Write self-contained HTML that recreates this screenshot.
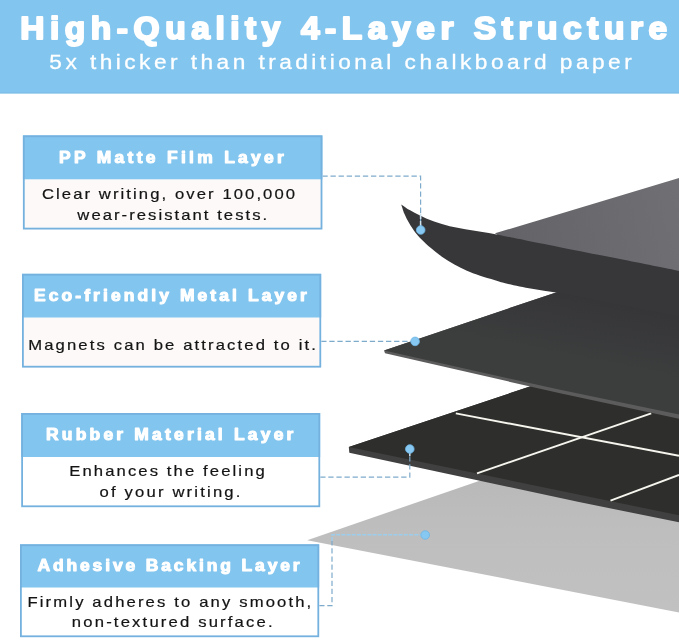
<!DOCTYPE html>
<html><head><meta charset="utf-8">
<style>
html,body{margin:0;padding:0;background:#fff;}
body{width:679px;height:640px;position:relative;overflow:hidden;}
svg{position:absolute;left:0;top:0;display:block;will-change:transform;}
text{font-family:"Liberation Sans",sans-serif;white-space:pre;}
.T1{font-size:31px;font-weight:bold;fill:#ffffff;stroke:#ffffff;stroke-width:2.0px;stroke-linejoin:round;}
.T2{font-size:21px;font-weight:normal;fill:#ffffff;stroke:#ffffff;stroke-width:0.3px;stroke-linejoin:round;}
.H{font-size:15.6px;font-weight:bold;fill:#ffffff;stroke:#ffffff;stroke-width:1.0px;stroke-linejoin:round;}
.B{font-size:14.6px;font-weight:normal;fill:#141414;stroke:#141414;stroke-width:0.2px;stroke-linejoin:round;}
</style></head><body>
<svg width="679" height="640" viewBox="0 0 679 640">
<rect x="0" y="0" width="679" height="93.4" fill="#82c5ef"/>
<rect x="0" y="92.4" width="679" height="1" fill="#7bbbe4"/>
  <defs>
    <linearGradient id="gf" x1="495" y1="240" x2="679" y2="190" gradientUnits="userSpaceOnUse"><stop offset="0" stop-color="#636367"/><stop offset="1" stop-color="#707074"/></linearGradient>
    <linearGradient id="ga" x1="0" y1="480" x2="0" y2="612" gradientUnits="userSpaceOnUse"><stop offset="0" stop-color="#b9b9b9"/><stop offset="0.4" stop-color="#bebebe"/><stop offset="1" stop-color="#c1c1c1"/></linearGradient>
    <linearGradient id="gm" x1="600" y1="301" x2="588" y2="361" gradientUnits="userSpaceOnUse"><stop offset="0" stop-color="#363639"/><stop offset="1" stop-color="#3c3d3d"/></linearGradient>
  </defs>
  <!-- adhesive gray layer -->
  <polygon points="307.2,540.2 500,473.7 679,500 679,612.4" fill="url(#ga)"/>
  <!-- rubber layer -->
  <polygon points="348.8,446.9 560,376.5 679,400 679,522.3 579,502 349.3,452.8" fill="#404040"/>
  <polygon points="348.8,446.9 560,376.5 679,400 679,515.3" fill="#2e2e2c"/>
  <g stroke="#f6f5ee" stroke-width="1.9" fill="none">
    <line x1="455.8" y1="413.4" x2="679" y2="455.7"/>
    <line x1="477" y1="473.3" x2="651.2" y2="413.4"/>
    <line x1="610.5" y1="500.6" x2="679" y2="475"/>
  </g>
  <!-- metal layer -->
  <polygon points="384,350.5 556,292.4 575,286 679,300 679,418.8 560,393.3 385,353.3" fill="#5c5c5c"/>
  <polygon points="384,350.5 556,292.4 575,286 679,300 679,414.4 560,389.8" fill="url(#gm)"/>
  <!-- top board gray face -->
  <polygon points="495,233.3 679,178 679,282 510,244" fill="url(#gf)"/>
  <!-- peeling film -->
  <path d="M401.2,204.4 C402.8,205.4 406.4,208.3 410.6,210.6 C414.8,212.9 421.0,216.2 426.2,218.4 C431.5,220.6 436.7,222.3 441.9,223.9 C447.1,225.5 452.3,226.7 457.5,227.8 C462.7,228.9 467.9,229.7 473.1,230.6 C478.3,231.5 483.4,232.2 488.8,233.1 C494.1,234.0 499.0,235.0 505.0,236.2 C511.0,237.4 515.8,238.4 525.0,240.2 C534.2,242.0 544.2,244.0 560.0,247.2 C575.8,250.3 600.2,255.2 620.0,259.1 C639.8,263.1 669.2,268.9 679.0,270.9 L679.0,316.5 C669.2,314.6 636.5,308.2 620.0,305.0 C603.5,301.8 590.7,299.3 580.0,297.2 C569.3,295.1 564.0,294.0 556.0,292.6 C548.0,291.2 539.9,290.2 532.0,288.8 C524.1,287.4 514.6,285.4 508.4,284.0 C502.2,282.6 499.8,281.6 495.0,280.2 C490.2,278.8 484.1,277.1 479.4,275.5 C474.7,273.9 471.1,272.6 466.9,270.8 C462.7,269.0 458.6,266.9 454.4,264.5 C450.2,262.1 445.8,259.4 441.9,256.7 C438.0,254.0 434.3,251.0 430.9,248.1 C427.5,245.2 424.2,242.1 421.6,239.5 C419.0,236.9 417.4,235.2 415.3,232.5 C413.2,229.8 410.9,226.2 409.1,223.1 C407.3,220.0 405.7,216.9 404.4,213.8 C403.1,210.6 401.8,206.0 401.2,204.4 Z" fill="#37373a"/>
  <!-- connectors -->
  <g stroke="#7eabcb" stroke-width="1.2" fill="none" stroke-dasharray="5.3 2.8">
    <polyline points="322.4,176.2 420.6,176.2 420.6,226"/>
    <line x1="321.2" y1="341.4" x2="411" y2="341.4"/>
    <polyline points="320.2,477.2 409.8,477.2 409.8,453"/>
    <polyline points="319.2,605.6 332,605.6 332,541"/>
  </g>
  <line x1="420.6" y1="213.5" x2="420.6" y2="226" stroke="#cfe2ef" stroke-width="1.5" stroke-dasharray="5.5 2"/>
  <line x1="409.8" y1="449" x2="409.8" y2="456" stroke="#cfe2ef" stroke-width="1.5"/>
  <polyline points="332,541 332,534.8 425,534.8" fill="none" stroke="#9ccdec" stroke-width="1.4" stroke-dasharray="4 1.2"/>
  <g fill="#86c8f1" stroke="#6fb5e3" stroke-width="0.8">
    <circle cx="420.7" cy="230" r="4.3"/>
    <circle cx="415.1" cy="341.4" r="4.3"/>
    <circle cx="409.8" cy="449" r="4.3"/>
    <circle cx="425.2" cy="535" r="4.3"/>
  </g>

<rect x="22.9" y="135.4" width="299.5" height="94.1" fill="#fcf9f8"/>
<rect x="22.9" y="135.4" width="299.5" height="43.9" fill="#82c5ef"/>
<rect x="23.8" y="136.3" width="297.7" height="92.3" fill="none" stroke="#74b1df" stroke-width="1.8"/>
<rect x="22.0" y="273.8" width="299.2" height="93.8" fill="#fcf9f8"/>
<rect x="22.0" y="273.8" width="299.2" height="43.7" fill="#82c5ef"/>
<rect x="22.9" y="274.7" width="297.4" height="92.0" fill="none" stroke="#74b1df" stroke-width="1.8"/>
<rect x="21.2" y="413.0" width="299.0" height="94.2" fill="#ffffff"/>
<rect x="21.2" y="413.0" width="299.0" height="44.0" fill="#82c5ef"/>
<rect x="22.1" y="413.9" width="297.2" height="92.4" fill="none" stroke="#74b1df" stroke-width="1.8"/>
<rect x="20.0" y="544.3" width="299.2" height="92.9" fill="#ffffff"/>
<rect x="20.0" y="544.3" width="299.2" height="43.2" fill="#82c5ef"/>
<rect x="20.9" y="545.2" width="297.4" height="91.1" fill="none" stroke="#74b1df" stroke-width="1.8"/>
<text class="T1" transform="translate(20.21,39.3) scale(1.08,1)" letter-spacing="5.161">High-Quality 4-Layer Structure</text>
<text class="T2" transform="translate(49.35,69.0) scale(1.08,1)" letter-spacing="3.206">5x thicker than traditional chalkboard paper</text>
<text class="H" transform="translate(58.98,162.6) scale(1.12,1)" letter-spacing="2.945">PP Matte Film Layer</text>
<text class="B" transform="translate(41.96,198.7) scale(1.14,1)" letter-spacing="1.834">Clear writing, over 100,000</text>
<text class="B" transform="translate(77.35,219.6) scale(1.14,1)" letter-spacing="1.801">wear-resistant tests.</text>
<text class="H" transform="translate(33.98,300.8) scale(1.12,1)" letter-spacing="2.760">Eco-friendly Metal Layer</text>
<text class="B" transform="translate(28.23,349.6) scale(1.14,1)" letter-spacing="1.870">Magnets can be attracted to it.</text>
<text class="H" transform="translate(45.98,440.0) scale(1.12,1)" letter-spacing="2.858">Rubber Material Layer</text>
<text class="B" transform="translate(69.23,476.4) scale(1.14,1)" letter-spacing="1.857">Enhances the feeling</text>
<text class="B" transform="translate(99.48,497.1) scale(1.14,1)" letter-spacing="1.917">of your writing.</text>
<text class="H" transform="translate(37.42,570.8) scale(1.12,1)" letter-spacing="2.569">Adhesive Backing Layer</text>
<text class="B" transform="translate(27.48,606.9) scale(1.14,1)" letter-spacing="1.882">Firmly adheres to any smooth,</text>
<text class="B" transform="translate(71.86,627.1) scale(1.14,1)" letter-spacing="1.912">non-textured surface.</text>
</svg>
</body></html>
